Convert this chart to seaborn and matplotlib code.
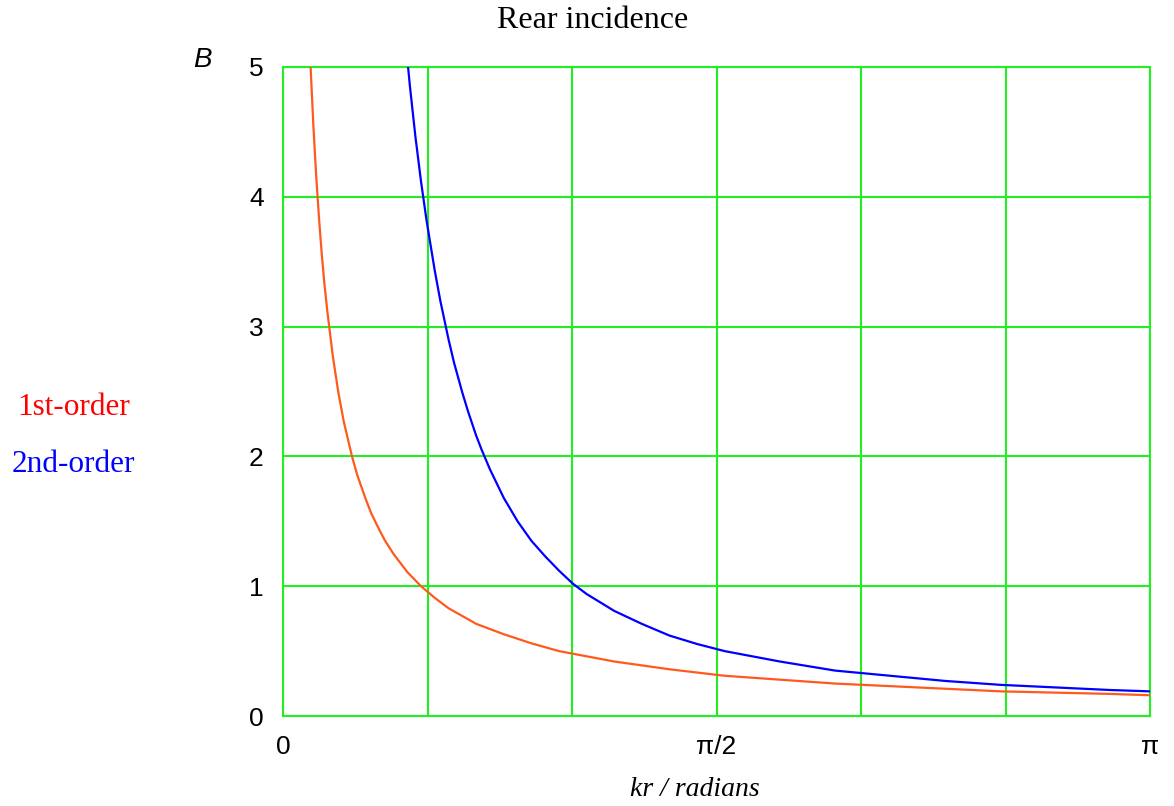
import numpy as np
import pandas as pd
import matplotlib.pyplot as plt
import seaborn as sns

# --- datos ---
X_FIRST = [0.10, 0.11, 0.12, 0.13, 0.14, 0.15, 0.16, 0.18, 0.20, 0.22, 0.25, 0.27,
           0.30, 0.32, 0.35, 0.37, 0.40, 0.45, 0.50, 0.55, 0.60, 0.65, 0.70, 0.75,
           0.80, 0.90, 1.00, 1.20, 1.40, 1.60, 1.80, 2.00, 2.20, 2.40, 2.60, 2.80,
           3.00, 3.14]
B_FIRST = [5.00, 4.55, 4.17, 3.85, 3.57, 3.33, 3.13, 2.78, 2.50, 2.27, 2.00, 1.85,
           1.67, 1.56, 1.43, 1.35, 1.25, 1.11, 1.00, 0.91, 0.83, 0.77, 0.71, 0.67,
           0.63, 0.56, 0.50, 0.42, 0.36, 0.31, 0.28, 0.25, 0.23, 0.21, 0.19, 0.18,
           0.17, 0.16]

X_SECOND = [0.44, 0.46, 0.48, 0.50, 0.52, 0.55, 0.57, 0.60, 0.62, 0.65, 0.67, 0.70,
            0.72, 0.75, 0.80, 0.85, 0.90, 0.95, 1.00, 1.05, 1.10, 1.20, 1.30, 1.40,
            1.50, 1.60, 1.80, 2.00, 2.20, 2.40, 2.60, 2.80, 3.00, 3.14]
B_SECOND = [5.29, 4.85, 4.46, 4.12, 3.82, 3.43, 3.20, 2.90, 2.72, 2.49, 2.35, 2.16,
            2.05, 1.90, 1.68, 1.50, 1.35, 1.23, 1.12, 1.02, 0.94, 0.81, 0.71, 0.62,
            0.555, 0.50, 0.42, 0.35, 0.31, 0.27, 0.24, 0.22, 0.20, 0.19]

SERIES = ["1st-order", "2nd-order"]
COLORS = {"1st-order": "#ff5a1e", "2nd-order": "#0000ff"}

X_TICKS = [0, np.pi / 6, np.pi / 3, np.pi / 2, 2 * np.pi / 3, 5 * np.pi / 6, np.pi]
X_TICK_LABELS = ["0", "", "", "\u03c0/2", "", "", "\u03c0"]
Y_TICKS = [0, 1, 2, 3, 4, 5]

GRID_COLOR = "#22ee22"
SERIF = ["Liberation Serif", "DejaVu Serif"]

df = pd.concat([
    pd.DataFrame({"kr": X_FIRST, "B": B_FIRST, "order": SERIES[0]}),
    pd.DataFrame({"kr": X_SECOND, "B": B_SECOND, "order": SERIES[1]}),
])

sns.set_style("white")
plt.rcParams["font.family"] = ["Liberation Sans", "DejaVu Sans"]
plt.rcParams["text.color"] = "black"

fig = plt.figure(figsize=(11.74, 8.06), dpi=100)
ax = fig.add_axes([283 / 1174, 1 - 716 / 806, (1150 - 283) / 1174, (716 - 67) / 806])

sns.lineplot(data=df, x="kr", y="B", hue="order", hue_order=SERIES,
             palette=COLORS, linewidth=1.6, legend=False, ax=ax, zorder=3)

ax.set_xlim(0, np.pi)
ax.set_ylim(0, 5)
ax.set_xticks(X_TICKS)
ax.set_xticklabels(X_TICK_LABELS)
ax.set_yticks(Y_TICKS)
ax.tick_params(length=0, labelsize=19, pad=14, labelcolor="black")
ax.grid(True, color=GRID_COLOR, linewidth=1.5)
for s in ax.spines.values():
    s.set_color(GRID_COLOR)
    s.set_linewidth(1.5)
ax.set_xlabel("")
ax.set_ylabel("")

# Decoracion
fig.text(593 / 1174, 1 - 20 / 806, "Rear incidence", ha="center", va="center",
         fontsize=23, family=SERIF)
fig.text(202 / 1174, 1 - 60 / 806, "B", ha="center", va="center",
         fontsize=20, style="italic")
fig.text(695 / 1174, 1 - 789 / 806, "kr / radians", ha="center", va="center",
         fontsize=20, style="italic", family=SERIF)
fig.text(74 / 1174, 1 - 407 / 806, "1st-order", ha="center", va="center",
         fontsize=22.5, color="#ff0000", family=SERIF)
fig.text(73 / 1174, 1 - 465 / 806, "2nd-order", ha="center", va="center",
         fontsize=22.5, color="#0000ff", family=SERIF)

plt.savefig("out.png", dpi=100)
plt.close(fig)
